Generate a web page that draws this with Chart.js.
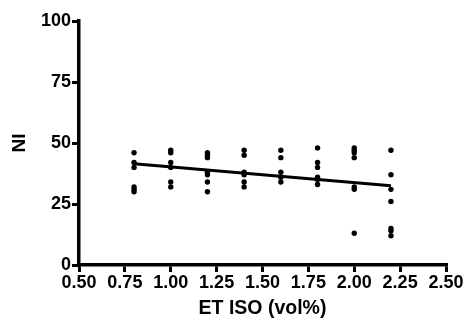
<!DOCTYPE html>
<html>
<head>
<meta charset="utf-8">
<script src="https://cdn.jsdelivr.net/npm/chart.js@4"></script>
<style>
  html, body { margin: 0; padding: 0; background: #fff; }
  #wrap { width: 466px; height: 323px; }
</style>
</head>
<body>
<div id="wrap"><canvas id="c" width="466" height="323"></canvas></div>
<script>
// ET ISO groups (vol%)
const etIso = [0.8, 1.0, 1.2, 1.4, 1.6, 1.8, 2.0, 2.2];
// NI values observed at each ET ISO level
const ni08 = [46, 42, 40, 32, 31, 30];
const ni10 = [47, 46, 42, 40, 34, 32];
const ni12 = [46, 45, 44, 38, 37, 34, 30];
const ni14 = [47, 45, 38, 37, 34, 32];
const ni16 = [47, 44, 38, 36, 34];
const ni18 = [48, 42, 40, 36, 35, 33];
const ni20 = [48, 47, 46, 44, 32, 31, 13];
const ni22 = [47, 37, 31, 26, 15, 14, 12];
const niGroups = [ni08, ni10, ni12, ni14, ni16, ni18, ni20, ni22];
// regression line end points
const fitX = [0.8, 2.2];
const fitY = [41.5, 32.5];
// tick values
const xTicks = [0.5, 0.75, 1.0, 1.25, 1.5, 1.75, 2.0, 2.25, 2.5];
const yTicks = [0, 25, 50, 75, 100];
const xTitle = 'ET ISO (vol%)';
const yTitle = 'NI';

const scatterPts = [];
etIso.forEach((x, i) => niGroups[i].forEach(y => scatterPts.push({ x: x, y: y })));
const fitPts = fitX.map((x, i) => ({ x: x, y: fitY[i] }));

const FONT = 'Liberation Sans';
const tickFont = { family: FONT, size: 18, weight: 'bold' };

new Chart(document.getElementById('c'), {
  type: 'scatter',
  data: {
    datasets: [
      {
        type: 'line',
        data: fitPts,
        borderColor: '#000',
        borderWidth: 3,
        pointRadius: 0,
        fill: false,
        order: 1
      },
      {
        data: scatterPts,
        backgroundColor: '#000',
        borderColor: '#000',
        pointRadius: 2.7,
        borderWidth: 0,
        order: 0
      }
    ]
  },
  options: {
    responsive: false,
    animation: false,
    devicePixelRatio: 1,
    layout: { padding: { left: 0, top: 21, right: 20, bottom: 0 } },
    plugins: { legend: { display: false }, tooltip: { enabled: false } },
    scales: {
      x: {
        type: 'linear',
        min: 0.5, max: 2.5,
        afterBuildTicks: s => { s.ticks = xTicks.map(v => ({ value: v })); },
        afterFit: s => { s.height = 58; },
        border: { display: true, color: '#000', width: 3.5 },
        grid: { display: true, drawOnChartArea: false, drawTicks: true, tickLength: 7, lineWidth: 3, color: '#000' },
        ticks: {
          color: '#000', font: tickFont, padding: 0, maxRotation: 0, autoSkip: false,
          callback: v => Number(v).toFixed(2)
        },
        title: {
          display: true, text: xTitle, color: '#000',
          font: { family: FONT, size: 19.5, weight: 'bold' },
          padding: { top: 0, bottom: 3 }
        }
      },
      y: {
        min: 0, max: 100,
        afterBuildTicks: s => { s.ticks = yTicks.map(v => ({ value: v })); },
        afterFit: s => { s.width = 79; },
        border: { display: true, color: '#000', width: 3.5 },
        grid: { display: true, drawOnChartArea: false, drawTicks: true, tickLength: 7, lineWidth: 3, color: '#000' },
        ticks: { color: '#000', font: tickFont, padding: 1 },
        title: {
          display: true, text: yTitle, color: '#000',
          font: { family: FONT, size: 19, weight: 'bold' },
          padding: { top: 8, bottom: 0 }
        }
      }
    }
  }
});
</script>
</body>
</html>
